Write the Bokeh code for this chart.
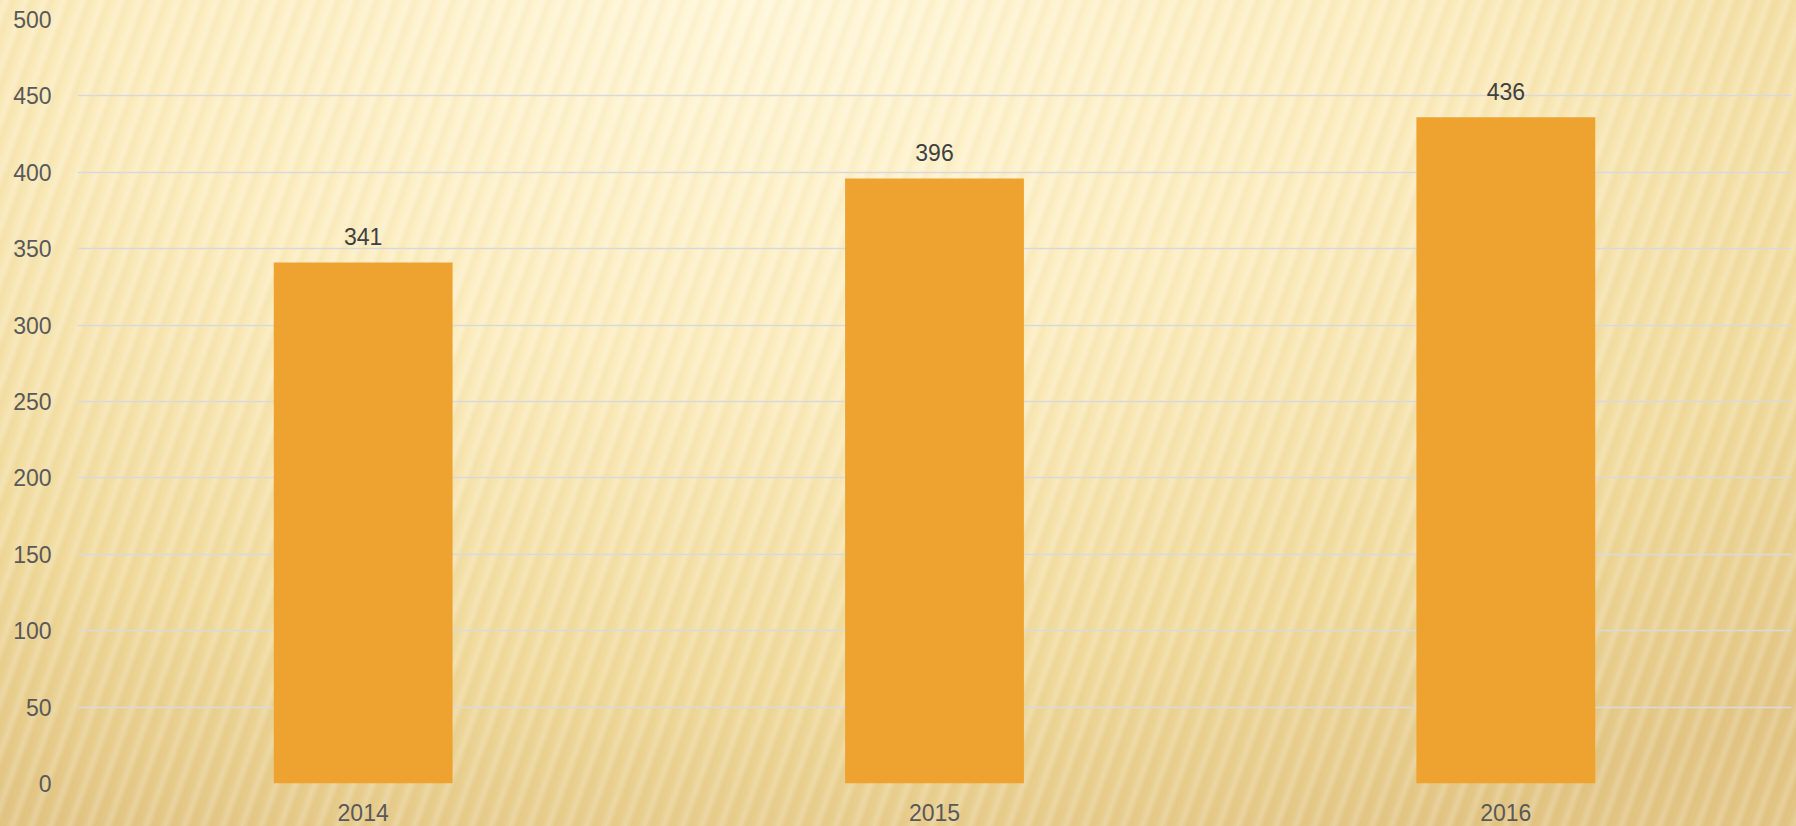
from bokeh.plotting import figure
from bokeh.models import ColumnDataSource, FixedTicker, NumeralTickFormatter
from bokeh.embed import file_html
from bokeh.resources import INLINE

# ---- data ----
years = ["2014", "2015", "2016"]
values = [341, 396, 436]
y_ticks = [0, 50, 100, 150, 200, 250, 300, 350, 400, 450, 500]

FONT = "Liberation Sans"
AXIS_COLOR = "#595959"
LABEL_COLOR = "#404040"
BAR_COLOR = "#EEA230"
GRID_COLOR = "#D9D9D9"

src = ColumnDataSource(dict(x=years, top=values, label=[str(v) for v in values]))

p = figure(
    x_range=years, y_range=(0, 500),
    width=1796, height=826,
    output_backend="svg", toolbar_location=None,
    min_border_left=77, min_border_right=5, min_border_top=19, min_border_bottom=43,
)

p.styles = {
    "background": (
        "repeating-linear-gradient(110deg, rgba(255,255,255,0) 0px, rgba(255,255,255,0.20) 6px, "
        "rgba(205,165,70,0.07) 12px, rgba(255,255,255,0) 18px), "
        "radial-gradient(ellipse 90% 110% at 42% 0%, #FFF7D9 0%, #FCEDC0 40%, #F0DA9C 75%, #E2C585 100%)"
    )
}
p.background_fill_alpha = 0
p.border_fill_alpha = 0
p.outline_line_color = None

p.vbar(x="x", top="top", width=0.313, source=src, fill_color=BAR_COLOR, line_color=None)

p.text(x="x", y="top", text="label", source=src, text_align="center",
       text_baseline="alphabetic", y_offset=-26, text_font_size="23px",
       text_color=LABEL_COLOR, text_font={"value": FONT})

# grid
p.xgrid.grid_line_color = None
p.ygrid.grid_line_color = GRID_COLOR
p.ygrid.grid_line_width = 1.6
p.yaxis.ticker = FixedTicker(ticks=y_ticks)

# axes
for ax in (p.xaxis[0], p.yaxis[0]):
    ax.axis_line_color = None
    ax.major_tick_line_color = None
    ax.minor_tick_line_color = None
    ax.major_label_text_font = FONT
    ax.major_label_text_font_size = "23px"
    ax.major_label_text_color = AXIS_COLOR

p.yaxis.major_label_standoff = 20
p.xaxis.major_label_standoff = 14
p.yaxis.formatter = NumeralTickFormatter(format="0")

open("out.html", "w").write(file_html(p, INLINE))
